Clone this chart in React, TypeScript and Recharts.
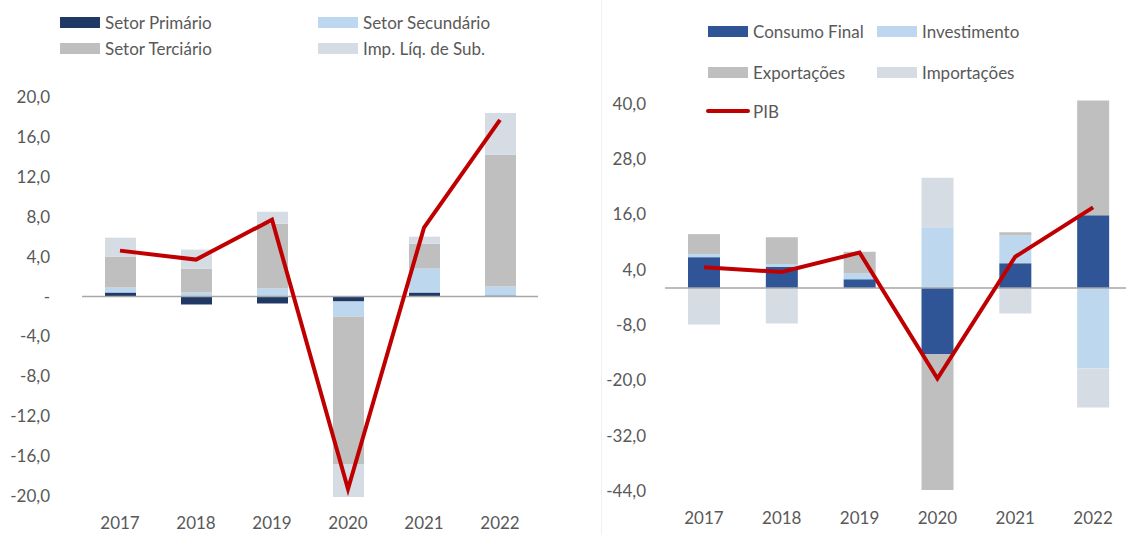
import React from "react"
import { ComposedChart, Bar, Line, XAxis, YAxis, ReferenceLine } from "recharts"

const years = ["2017", "2018", "2019", "2020", "2021", "2022"]

// esquerda: contribuição por setor
const primario = [0.4, -0.8, -0.7, -0.5, 0.4, 0.1]
const secundario = [0.5, 0.4, 0.8, -1.5, 2.4, 0.9]
const terciario = [3.1, 2.4, 6.5, -14.8, 2.5, 13.2]
const impLiq = [1.9, 1.9, 1.2, -3.3, 0.7, 4.2]
const pibSetor = [4.6, 3.7, 7.7, -19.3, 6.9, 17.7]
const leftTicks = [-20, -16, -12, -8, -4, 0, 4, 8, 12, 16, 20]

// direita: contribuição pela ótica da despesa
const consumo = [6.7, 4.6, 1.9, -14.3, 5.4, 15.8]
const investimento = [0.7, 0.6, 1.3, 13.2, 6.0, -17.4]
const exportacoes = [4.3, 5.8, 4.7, -29.5, 0.7, 24.9]
const importacoes = [-7.9, -7.7, 0, 10.7, -5.5, -8.5]
const pibDespesa = [4.5, 3.5, 7.7, -19.6, 6.8, 17.5]
const rightTicks = [-44, -32, -20, -8, 4, 16, 28, 40]

const leftData = years.map((ano, i) => ({
    ano,
    primario: primario[i],
    secundario: secundario[i],
    terciario: terciario[i],
    impLiq: impLiq[i],
    pib: pibSetor[i],
}))

const rightData = years.map((ano, i) => ({
    ano,
    consumo: consumo[i],
    investimento: investimento[i],
    exportacoes: exportacoes[i],
    importacoes: importacoes[i],
    pib: pibDespesa[i],
}))

const FONT = "Lato, 'Open Sans', sans-serif"
const TXT = "#595959"
const RED = "#c00000"

const fmt = (v: number) => (v === 0 ? "-" : v.toFixed(1).replace(".", ","))

const Swatch = ({ x, y, color, label }: { x: number; y: number; color: string; label: string }) => (
    <div style={{ position: "absolute", left: x, top: y - 10, height: 20, display: "flex", alignItems: "center", whiteSpace: "nowrap" }}>
        <div style={{ width: 40, height: 11, background: color, marginRight: 5 }} />
        <span style={{ fontSize: 17, color: TXT, fontFamily: FONT }}>{label}</span>
    </div>
)

const App = () => {
    const tickStyle = { fill: TXT, fontSize: 17, fontFamily: FONT }
    return (
        <div style={{ position: "relative", width: 1126, height: 535, background: "#fff", overflow: "hidden" }}>
            <style>{`body{margin:0}`}</style>

            {/* painel esquerdo */}
            <div style={{ position: "absolute", left: 0, top: 0 }}>
                <ComposedChart width={560} height={535} data={leftData} stackOffset="sign"
                    margin={{ top: 97, right: 22, bottom: 0, left: 0 }}>
                    <XAxis dataKey="ano" axisLine={false} tickLine={false} tickSize={0} tickMargin={20}
                        height={38} tick={tickStyle} />
                    <YAxis domain={[-20, 20]} ticks={leftTicks} tickFormatter={fmt} axisLine={false}
                        tickLine={false} tickSize={0} tickMargin={32} width={82} tick={tickStyle} />
                    <Bar dataKey="primario" stackId="a" fill="#1f3864" barSize={31} isAnimationActive={false} />
                    <Bar dataKey="secundario" stackId="a" fill="#bdd7ee" barSize={31} isAnimationActive={false} />
                    <Bar dataKey="terciario" stackId="a" fill="#bfbfbf" barSize={31} isAnimationActive={false} />
                    <Bar dataKey="impLiq" stackId="a" fill="#d6dce4" barSize={31} isAnimationActive={false} />
                    <ReferenceLine y={0} stroke="#a6a6a6" strokeWidth={1.5} />
                    <Line dataKey="pib" type="linear" stroke={RED} strokeWidth={4} dot={false} isAnimationActive={false} />
                </ComposedChart>
                <Swatch x={60} y={22} color="#1f3864" label="Setor Primário" />
                <Swatch x={318} y={22} color="#bdd7ee" label="Setor Secundário" />
                <Swatch x={60} y={48} color="#bfbfbf" label="Setor Terciário" />
                <Swatch x={318} y={48} color="#d6dce4" label="Imp. Líq. de Sub." />
            </div>

            <div style={{ position: "absolute", left: 601, top: 0, width: 1, height: 535, background: "#f0f0f0" }} />

            {/* painel direito */}
            <div style={{ position: "absolute", left: 580, top: 0 }}>
                <ComposedChart width={560} height={535} data={rightData} stackOffset="sign"
                    margin={{ top: 99, right: 8, bottom: 0, left: 0 }}>
                    <XAxis dataKey="ano" axisLine={false} tickLine={false} tickSize={0} tickMargin={21}
                        height={44} tick={tickStyle} />
                    <YAxis domain={[-44, 41]} ticks={rightTicks} tickFormatter={fmt} axisLine={false}
                        tickLine={false} tickSize={0} tickMargin={19} width={85} tick={tickStyle} />
                    <Bar dataKey="consumo" stackId="b" fill="#2f5597" barSize={32} isAnimationActive={false} />
                    <Bar dataKey="investimento" stackId="b" fill="#bdd7ee" barSize={32} isAnimationActive={false} />
                    <Bar dataKey="exportacoes" stackId="b" fill="#bfbfbf" barSize={32} isAnimationActive={false} />
                    <Bar dataKey="importacoes" stackId="b" fill="#d6dce4" barSize={32} isAnimationActive={false} />
                    <ReferenceLine y={0} stroke="#a6a6a6" strokeWidth={1.5} />
                    <Line dataKey="pib" type="linear" stroke={RED} strokeWidth={4} dot={false} isAnimationActive={false} />
                </ComposedChart>
                <Swatch x={128} y={31} color="#2f5597" label="Consumo Final" />
                <Swatch x={297} y={31} color="#bdd7ee" label="Investimento" />
                <Swatch x={128} y={72} color="#bfbfbf" label="Exportações" />
                <Swatch x={297} y={72} color="#d6dce4" label="Importações" />
                <div style={{ position: "absolute", left: 126, top: 101, height: 20, display: "flex", alignItems: "center" }}>
                    <div style={{ width: 44, height: 4, borderRadius: 2, background: RED, marginRight: 3 }} />
                    <span style={{ fontSize: 17, color: TXT, fontFamily: FONT }}>PIB</span>
                </div>
            </div>
        </div>
    )
}

export default App
